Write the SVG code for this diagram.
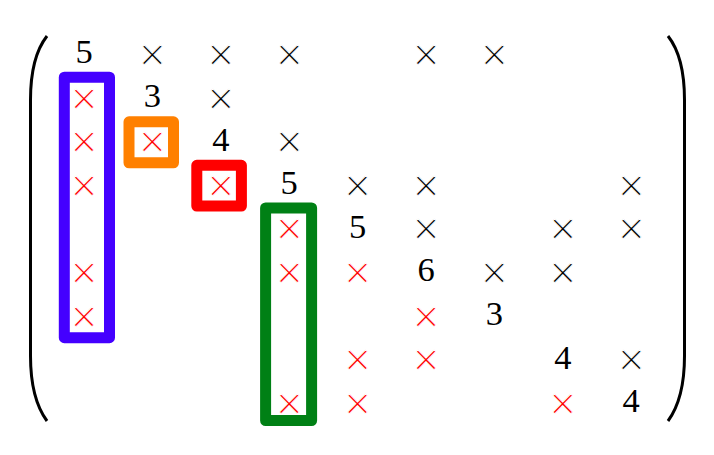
<svg xmlns="http://www.w3.org/2000/svg" width="714" height="455" viewBox="0 0 714 455">
<style>
text{font-family:"Liberation Serif","Times New Roman",serif;text-anchor:middle;fill:#000}
.d{font-size:34.5px}
.x{font-size:48px;stroke:#fff;stroke-width:0.9px}
.r{fill:#ff0000}
.box{fill:none;stroke-width:11;stroke-linejoin:round}
.paren{fill:none;stroke:#000;stroke-width:3;stroke-linecap:butt}
</style>
<rect width="714" height="455" fill="#fff"/>
<g id="parens">
<path class="paren" d="M47,36 C36,50 30.5,72 30.5,100 L30.5,356 C30.5,384 36,406 47,421"/>
<path class="paren" d="M668,36 C679,50 684.5,72 684.5,100 L684.5,356 C684.5,384 679,406 668,421"/>
</g>
<g id="entries">
<!-- row 1 y=54.5 -->
<text class="d" x="84" y="63.3">5</text>
<text class="x" x="152.4" y="71">×</text>
<text class="x" x="220.8" y="71">×</text>
<text class="x" x="289.2" y="71">×</text>
<text class="x" x="426" y="71">×</text>
<text class="x" x="494.4" y="71">×</text>
<!-- row 2 y=98.1 -->
<text class="x r" x="84" y="114.6">×</text>
<text class="d" x="152.4" y="106.9">3</text>
<text class="x" x="220.8" y="114.6">×</text>
<!-- row 3 y=141.7 -->
<text class="x r" x="84" y="158.2">×</text>
<text class="x r" x="152.4" y="158.2">×</text>
<text class="d" x="220.8" y="150.5">4</text>
<text class="x" x="289.2" y="158.2">×</text>
<!-- row 4 y=185.3 -->
<text class="x r" x="84" y="201.8">×</text>
<text class="x r" x="220.8" y="201.8">×</text>
<text class="d" x="289.2" y="194.1">5</text>
<text class="x" x="357.6" y="201.8">×</text>
<text class="x" x="426" y="201.8">×</text>
<text class="x" x="631.2" y="201.8">×</text>
<!-- row 5 y=228.9 -->
<text class="x r" x="289.2" y="245.4">×</text>
<text class="d" x="357.6" y="237.7">5</text>
<text class="x" x="426" y="245.4">×</text>
<text class="x" x="562.8" y="245.4">×</text>
<text class="x" x="631.2" y="245.4">×</text>
<!-- row 6 y=272.5 -->
<text class="x r" x="84" y="289">×</text>
<text class="x r" x="289.2" y="289">×</text>
<text class="x r" x="357.6" y="289">×</text>
<text class="d" x="426" y="281.3">6</text>
<text class="x" x="494.4" y="289">×</text>
<text class="x" x="562.8" y="289">×</text>
<!-- row 7 y=316.1 -->
<text class="x r" x="84" y="332.6">×</text>
<text class="x r" x="426" y="332.6">×</text>
<text class="d" x="494.4" y="324.9">3</text>
<!-- row 8 y=359.7 -->
<text class="x r" x="357.6" y="376.2">×</text>
<text class="x r" x="426" y="376.2">×</text>
<text class="d" x="562.8" y="368.5">4</text>
<text class="x" x="631.2" y="376.2">×</text>
<!-- row 9 y=403.3 -->
<text class="x r" x="289.2" y="419.8">×</text>
<text class="x r" x="357.6" y="419.8">×</text>
<text class="x r" x="562.8" y="419.8">×</text>
<text class="d" x="631.2" y="412.1">4</text>
</g>
<g id="box-blue"><rect class="box" stroke="#4400ff" x="64.3" y="77.2" width="45.2" height="260.5"/></g>
<g id="box-orange"><rect class="box" stroke="#ff8000" x="129" y="121.8" width="44.5" height="41"/></g>
<g id="box-red"><rect class="box" stroke="#ff0000" x="196.8" y="165.3" width="44.6" height="40.8"/></g>
<g id="box-green"><rect class="box" stroke="#008015" x="265.6" y="208" width="46" height="212.5"/></g>
</svg>
